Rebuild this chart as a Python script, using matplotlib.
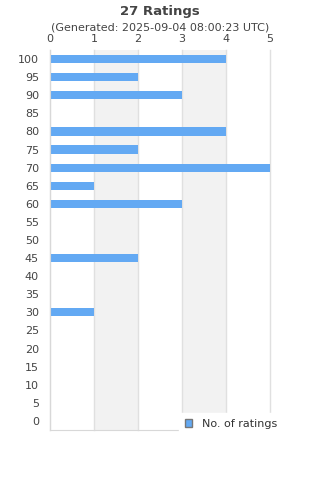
import numpy as np
import matplotlib.pyplot as plt

ratings = [100, 95, 90, 85, 80, 75, 70, 65, 60, 55, 50, 45, 40, 35, 30, 25, 20, 15, 10, 5, 0]
counts = [4, 2, 3, 0, 4, 2, 5, 1, 3, 0, 0, 2, 0, 0, 1, 0, 0, 0, 0, 0, 0]
xticks = [0, 1, 2, 3, 4, 5]

fig = plt.figure(figsize=(3.2, 4.8), dpi=100)
ax = fig.add_axes([50/320, 50/480, 220/320, 380/480])

pos = np.arange(len(ratings))
# alternating bands
for i in range(len(xticks) - 1):
    if i % 2 == 1:
        ax.axvspan(xticks[i], xticks[i + 1], color="#f2f2f2", zorder=0, lw=0)
for x in xticks:
    ax.axvline(x, color="#e0e0e0", lw=1, zorder=1, clip_on=False)

ax.barh(pos, counts, height=0.45, color="#63a9f3", zorder=2, label="No. of ratings")
ax.set_xlim(0, 5)
ax.set_ylim(len(ratings) - 0.5, -0.5)
ax.set_yticks(pos)
ax.set_yticklabels([str(r) for r in ratings])
ax.set_xticks(xticks)
ax.xaxis.tick_top()
ax.tick_params(axis="both", length=0, labelsize=8, colors="#444444")
ax.tick_params(axis="y", pad=8)
ax.tick_params(axis="x", pad=4)
for s in ["top", "right"]:
    ax.spines[s].set_visible(False)
for s in ["left", "bottom"]:
    ax.spines[s].set_color("#d8d8d8")

# legend
leg = ax.legend(loc="lower right", bbox_to_anchor=(1.06, -0.012), fontsize=8,
                frameon=True, fancybox=False, handlelength=0.7, handleheight=0.7,
                borderpad=0.5, handletextpad=0.9, borderaxespad=0)
leg.get_frame().set_facecolor("white")
leg.get_frame().set_edgecolor("white")
leg.get_frame().set_alpha(1)
leg.legend_handles[0].set_edgecolor("#777777")
leg.legend_handles[0].set_linewidth(1)
for t in leg.get_texts():
    t.set_color("#333333")

fig.text(0.5, 1 - 11/480, "27 Ratings", ha="center", va="center",
         fontsize=9.5, fontweight="bold", color="#444444")
fig.text(0.5, 1 - 28/480, "(Generated: 2025-09-04 08:00:23 UTC)", ha="center",
         va="center", fontsize=8, color="#444444")

fig.savefig("out.png", dpi=100)
